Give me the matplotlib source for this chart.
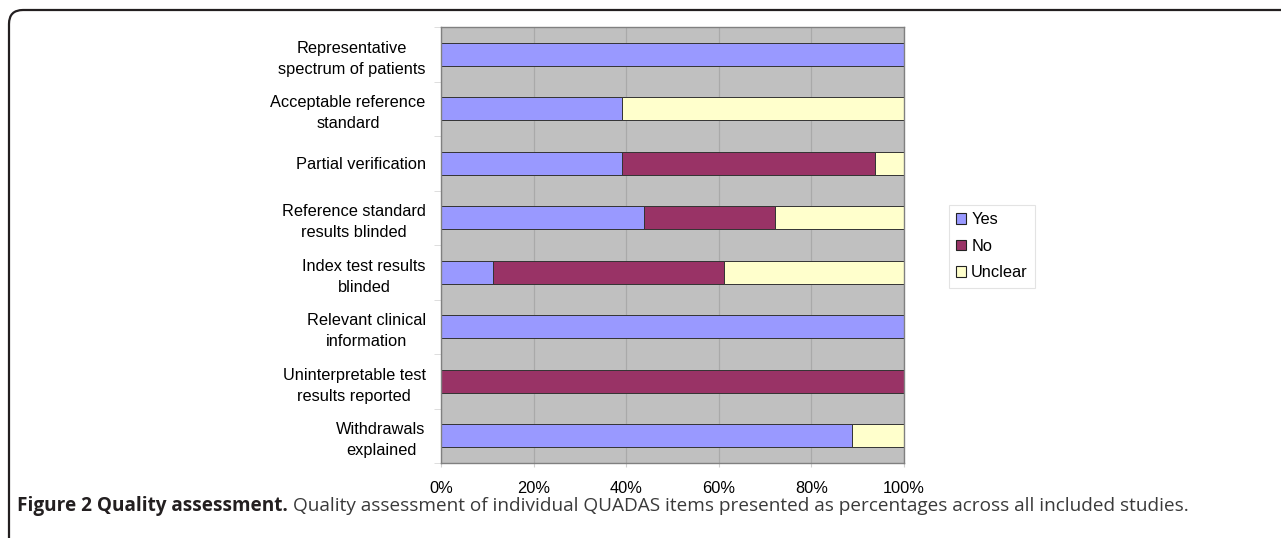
import matplotlib
matplotlib.use("Agg")
import matplotlib.pyplot as plt
import numpy as np
from matplotlib.patches import FancyBboxPatch, Patch
from matplotlib.transforms import IdentityTransform

# data (percent of studies)
items = ["Representative\nspectrum of patients", "Acceptable reference\nstandard",
         "Partial verification", "Reference standard\nresults blinded",
         "Index test results\nblinded", "Relevant clinical\ninformation",
         "Uninterpretable test\nresults reported", "Withdrawals\nexplained"]
yes = [100, 39.0, 39.0, 43.8, 11.3, 100, 0, 88.8]
no = [0, 0, 54.7, 28.3, 49.8, 0, 100, 0]
unclear = [0, 61.0, 6.3, 27.9, 38.9, 0, 0, 11.2]
ticks = [0, 20, 40, 60, 80, 100]
tick_labels = ["0%", "20%", "40%", "60%", "80%", "100%"]

col_yes, col_no, col_unc = "#9999FF", "#993366", "#FFFFCC"

plt.rcParams['font.family'] = ['Liberation Sans', 'DejaVu Sans']

W, H = 1281, 538
fig = plt.figure(figsize=(W / 100, H / 100), dpi=100)
ax = fig.add_axes([441 / W, 1 - 463 / H, 463 / W, 436 / H])
ax.set_facecolor("#C0C0C0")

y = np.arange(len(items))
bh = 0.42
yes_a, no_a, unc_a = np.array(yes), np.array(no), np.array(unclear)
ax.barh(y, yes_a, height=bh, color=col_yes, edgecolor="#333333", linewidth=0.7)
ax.barh(y, no_a, left=yes_a, height=bh, color=col_no, edgecolor="#333333", linewidth=0.7)
ax.barh(y, unc_a, left=yes_a + no_a, height=bh, color=col_unc, edgecolor="#333333", linewidth=0.7)

ax.set_xlim(0, 100)
ax.set_ylim(len(items) - 0.5, -0.5)
ax.set_axisbelow(True)
ax.xaxis.grid(True, color="#A9A9A9", linewidth=0.9)

ax.set_xticks(ticks)
ax.set_xticklabels(tick_labels, fontsize=11.8)
ax.tick_params(axis="x", length=3, color="#D0D0D0", pad=10)

ax.set_yticks(y)
ax.set_yticklabels(items, fontsize=11.8, multialignment="center", linespacing=1.5)
ax.tick_params(axis="y", which="major", length=0, pad=11)
ax.set_yticks(np.arange(-0.5, len(items)), minor=True)
ax.tick_params(axis="y", which="minor", length=5, color="#D8D8D8")

for s in ax.spines.values():
    s.set_color("#808080")
    s.set_linewidth(1)

handles = [Patch(facecolor=col_yes, edgecolor="#222222", linewidth=0.8),
           Patch(facecolor=col_no, edgecolor="#222222", linewidth=0.8),
           Patch(facecolor=col_unc, edgecolor="#222222", linewidth=0.8)]
leg = fig.legend(handles, ["Yes", "No", "Unclear"], loc="upper left",
                 bbox_to_anchor=(949 / W, 1 - 205 / H), fontsize=11.8,
                 handlelength=0.6, handleheight=0.6, handletextpad=0.3,
                 labelspacing=0.7, borderpad=0.45, fancybox=False,
                 frameon=True, borderaxespad=0)
leg.get_frame().set_edgecolor("#DDDDDD")
leg.get_frame().set_linewidth(0.8)

# caption
cap1 = fig.text(17 / W, 1 - 506 / H, "Figure 2 Quality assessment.", fontsize=13.7,
                fontweight="bold", family=["Open Sans", "DejaVu Sans"],
                color="#231F20", va="center", ha="left")
fig.canvas.draw()
bb = cap1.get_window_extent()
fig.text((bb.x1 + 5) / W, 1 - 506 / H,
         "Quality assessment of individual QUADAS items presented as percentages across all included studies.",
         fontsize=13.7, family=["Open Sans", "DejaVu Sans"], color="#3A3A3A",
         va="center", ha="left")

# rounded frame around the figure
frame = FancyBboxPatch((9, -40), 1400, H - 10 + 40,
                       boxstyle="round,pad=0,rounding_size=14",
                       transform=IdentityTransform(), facecolor="none",
                       edgecolor="#231F20", linewidth=1.6)
fig.patches.append(frame)

fig.savefig("out.png", dpi=100)
